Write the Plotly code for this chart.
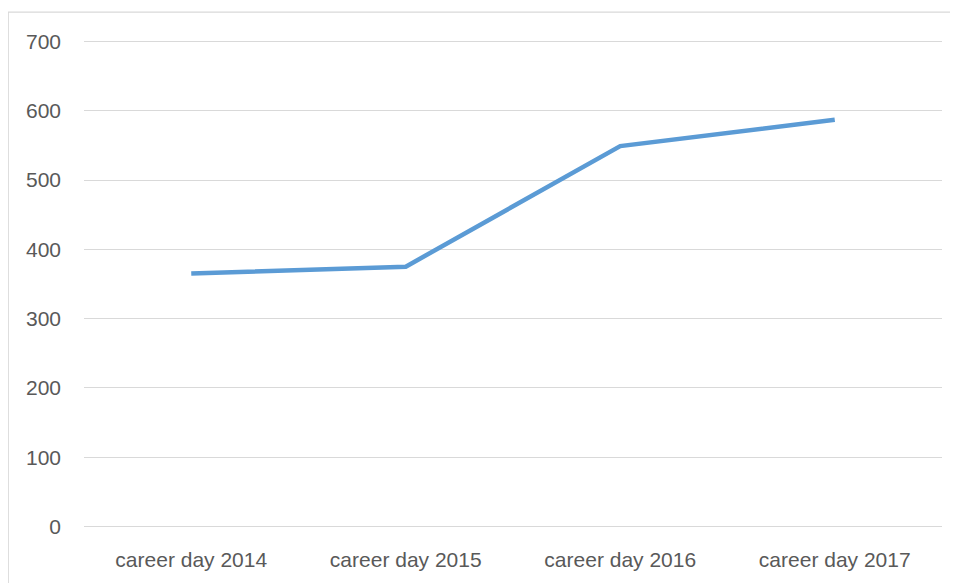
import plotly.graph_objects as go

categories = ["career day 2014", "career day 2015", "career day 2016", "career day 2017"]
values = [365, 375, 549, 587]
y_ticks = [0, 100, 200, 300, 400, 500, 600, 700]

# page has an 8px body margin, so the figure is drawn 8px right/down
OFF = 8
W, H = 958 - OFF, 583 - OFF
ml, mr = 84 - OFF, 16
mt = 40.1 - OFF
mb = H - (530.7 - OFF)
pw, ph = W - ml - mr, H - mt - mb

def px_x(x):
    return (x - OFF - ml) / pw

def px_y(y):
    return 1 - (y - OFF - mt) / ph

fig = go.Figure()
fig.add_trace(go.Scatter(
    x=categories, y=values, mode="lines",
    line=dict(color="#5B9BD5", width=4.5),
    showlegend=False, hoverinfo="skip",
))

font = dict(family="Liberation Sans, Arial, sans-serif", size=21, color="#595959")

fig.update_layout(
    width=W, height=H,
    margin=dict(l=ml, r=mr, t=mt, b=mb, pad=0),
    paper_bgcolor="white", plot_bgcolor="white",
    xaxis=dict(
        type="category", range=[-0.5, 3.5],
        showgrid=False, zeroline=False, showline=False,
        ticks="", tickfont=font, ticklabelstandoff=17, fixedrange=True,
    ),
    yaxis=dict(
        range=[-2, 702], tickvals=y_ticks,
        showgrid=True, gridcolor="#D9D9D9", gridwidth=1.3,
        zeroline=False, showline=False, ticks="",
        tickfont=font, ticklabelstandoff=22, fixedrange=True,
    ),
    shapes=[
        dict(type="line", xref="paper", yref="paper",
             x0=px_x(7.8), x1=px_x(970), y0=px_y(12), y1=px_y(12),
             line=dict(color="#D9D9D9", width=1.3)),
        dict(type="line", xref="paper", yref="paper",
             x0=px_x(8.2), x1=px_x(8.2), y0=px_y(12), y1=px_y(600),
             line=dict(color="#D9D9D9", width=1.3)),
    ],
)

fig.write_html("out.html")
